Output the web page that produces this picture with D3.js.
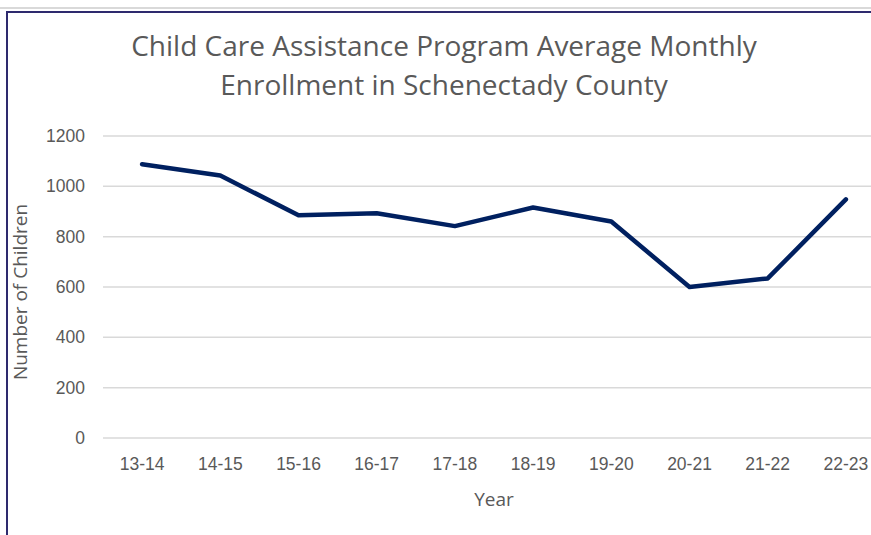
<!DOCTYPE html>
<html lang="en">
<head>
    <meta charset="UTF-8">
    <script src="https://d3js.org/d3.v7.min.js"></script>
    <title>Child Care Assistance</title>
    <style>
        body { margin: 0; background: #fff; }
    </style>
</head>
<body>
    <script>
        var years = ["13-14", "14-15", "15-16", "16-17", "17-18", "18-19", "19-20", "20-21", "21-22", "22-23"]
        var enrollment = [1088, 1043, 885, 893, 842, 916, 860, 600, 634, 948]
        var yTicks = [0, 200, 400, 600, 800, 1000, 1200]
        var titleLines = ["Child Care Assistance Program Average Monthly", "Enrollment in Schenectady County"]

        var width = 871, height = 535
        var svg = d3.select("body").append("svg")
            .attr("width", width)
            .attr("height", height)

        // frame lines from the screenshot
        svg.append("line").attr("x1", 0).attr("x2", width).attr("y1", 8).attr("y2", 8)
            .attr("stroke", "#d9d9d9").attr("stroke-width", 2)
        svg.append("line").attr("x1", 7).attr("x2", width).attr("y1", 12).attr("y2", 12)
            .attr("stroke", "#2e2a6e").attr("stroke-width", 2)
        svg.append("line").attr("x1", 7).attr("x2", 7).attr("y1", 11).attr("y2", height)
            .attr("stroke", "#2e2a6e").attr("stroke-width", 2)

        var x = d3.scaleBand().domain(years).range([103, 885])
        var y = d3.scaleLinear().domain([0, 1200]).range([438, 136])

        // gridlines
        svg.append("g")
            .selectAll("line")
            .data(yTicks)
            .join("line")
            .attr("x1", 103).attr("x2", width)
            .attr("y1", function (d) { return y(d) }).attr("y2", function (d) { return y(d) })
            .attr("stroke", "#d9d9d9").attr("stroke-width", 1.5)

        var yAxis = d3.axisLeft(y).tickValues(yTicks).tickFormat(d3.format("d")).tickSize(0).tickPadding(0)
        var gy = svg.append("g").attr("transform", "translate(85,0)").call(yAxis)
        gy.select(".domain").remove()
        gy.selectAll("text")
            .attr("font-family", "Liberation Sans, Arial, sans-serif")
            .attr("font-size", 17.5).attr("fill", "#595959")

        var xAxis = d3.axisBottom(x).tickSize(0).tickPadding(0)
        var gx = svg.append("g").attr("transform", "translate(0,458)").call(xAxis)
        gx.select(".domain").remove()
        gx.selectAll("text")
            .attr("font-family", "Liberation Sans, Arial, sans-serif")
            .attr("font-size", 17.5).attr("fill", "#595959")

        var line = d3.line()
            .x(function (d, i) { return x(years[i]) + x.bandwidth() / 2 })
            .y(function (d) { return y(d) })

        svg.append("path")
            .datum(enrollment)
            .attr("d", line)
            .attr("fill", "none")
            .attr("stroke", "#002060")
            .attr("stroke-width", 4.5)
            .attr("stroke-linejoin", "round")
            .attr("stroke-linecap", "round")

        svg.append("g")
            .selectAll("text")
            .data(titleLines)
            .join("text")
            .attr("x", 444)
            .attr("y", function (d, i) { return 56 + i * 39 })
            .attr("text-anchor", "middle")
            .attr("font-family", "Open Sans, sans-serif")
            .attr("font-size", 28)
            .attr("fill", "#595959")
            .text(function (d) { return d })

        svg.append("text")
            .attr("x", 494).attr("y", 506)
            .attr("text-anchor", "middle")
            .attr("font-family", "Open Sans, sans-serif")
            .attr("font-size", 19)
            .attr("fill", "#595959")
            .text("Year")

        svg.append("text")
            .attr("transform", "translate(27,292) rotate(-90)")
            .attr("text-anchor", "middle")
            .attr("font-family", "Open Sans, sans-serif")
            .attr("font-size", 19)
            .attr("fill", "#595959")
            .text("Number of Children")
    </script>
</body>
</html>
